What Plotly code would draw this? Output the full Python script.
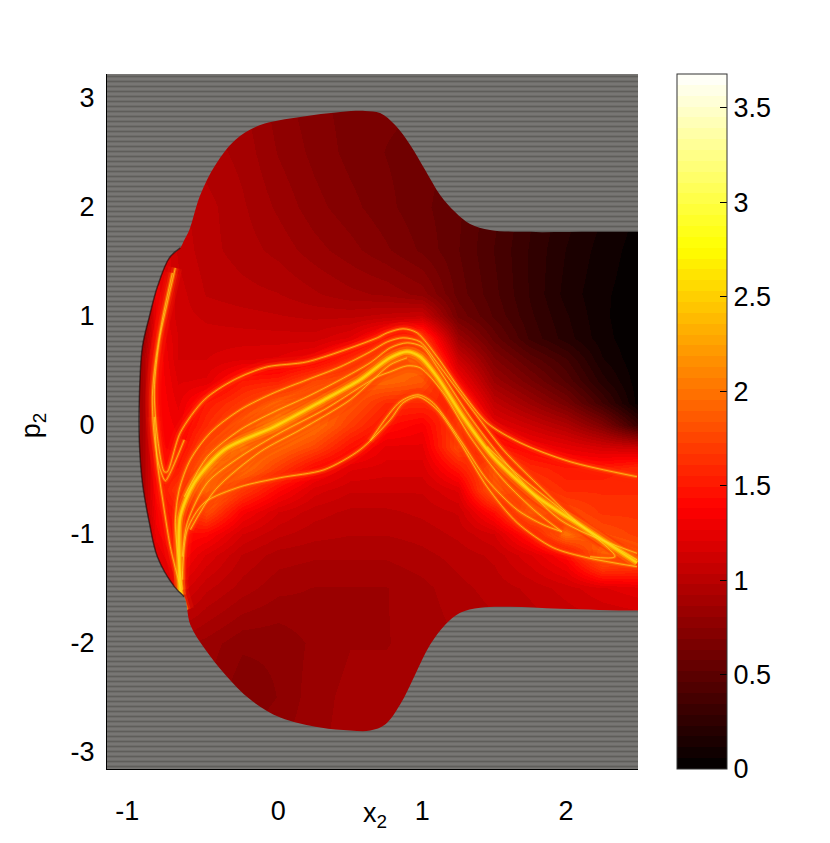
import plotly.graph_objects as go

z_max = 3.68
x_range = [-1.19, 2.5]
y_range = [-3.16, 3.22]
x_ticks = [-1.05, 0, 1, 2]
x_tick_text = ["-1", "0", "1", "2"]
y_ticks = [-3, -2, -1, 0, 1, 2, 3]
y_tick_text = ["-3", "-2", "-1", "0", "1", "2", "3"]
cbar_ticks = [0, 0.5, 1, 1.5, 2, 2.5, 3, 3.5]
cbar_text = ["0", "0.5", "1", "1.5", "2", "2.5", "3", "3.5"]

grid_x = [-1.2, -0.95, -0.85, -0.7, -0.5, -0.25, 0, 0.25, 0.5, 0.75, 1, 1.25, 1.5, 1.75, 2, 2.25, 2.5]
grid_y = [3.22, 2.5, 2.0, 1.6, 1.2, 1.0, 0.8, 0.6, 0.4, 0.2, 0.0, -0.2, -0.4, -0.6, -0.8, -1.0, -1.2, -1.5, -2.0, -2.5, -3.16]
grid_z = [
    [.95, .95, .95, .95, .9, .86, .76, .7, .66, .66, .66, .64, .54, .44, .34, .24, .12],
    [1.0, 1.0, 1.0, 1.0, .95, .9, .8, .73, .67, .63, .6, .56, .48, .38, .28, .18, .1],
    [1.05, 1.05, 1.05, 1.05, 1.0, .93, .85, .77, .71, .65, .59, .53, .42, .3, .2, .12, .05],
    [.5, .9, 1.25, 1.08, 1.0, .95, .9, .83, .77, .7, .62, .52, .4, .28, .17, .09, .03],
    [.4, .7, 1.3, 1.12, 1.03, 1.0, .98, .93, .88, .85, .78, .55, .42, .28, .15, .07, .02],
    [.4, .7, 1.3, 1.12, 1.08, 1.06, 1.04, 1.02, 1.02, 1.06, 1.1, .62, .45, .3, .18, .07, .01],
    [.4, .8, 1.35, 1.15, 1.12, 1.12, 1.12, 1.12, 1.22, 1.5, 1.7, .85, .55, .33, .2, .08, .01],
    [.4, .9, 1.4, 1.15, 1.15, 1.2, 1.22, 1.32, 1.6, 1.9, 2.0, 1.1, .7, .5, .35, .12, .01],
    [.4, .9, 1.4, 1.2, 1.22, 1.5, 1.55, 1.8, 1.9, 1.95, 1.85, 1.35, .85, .65, .45, .2, .02],
    [.4, .9, 1.4, 1.25, 1.5, 1.7, 1.95, 2.0, 1.85, 1.6, 1.6, 1.6, 1.05, .85, .65, .35, .03],
    [.4, .9, 1.4, 1.3, 1.6, 1.9, 2.2, 2.0, 1.7, 1.45, 1.35, 1.75, 1.25, 1.1, .95, .7, .3],
    [.4, .9, 1.4, 1.35, 1.8, 2.1, 1.95, 1.75, 1.45, 1.25, 1.25, 1.8, 1.5, 1.35, 1.25, 1.15, 1.1],
    [.4, .9, 1.4, 1.5, 2.1, 2.0, 1.7, 1.4, 1.22, 1.18, 1.18, 1.5, 1.9, 1.6, 1.5, 1.5, 1.6],
    [.4, .9, 1.4, 1.7, 2.1, 1.7, 1.4, 1.18, 1.1, 1.1, 1.1, 1.22, 1.95, 1.75, 1.6, 1.6, 1.6],
    [.4, .9, 1.35, 1.5, 1.8, 1.35, 1.15, 1.06, 1.02, 1.02, 1.05, 1.1, 1.45, 2.0, 1.8, 1.65, 1.65],
    [.4, .8, 1.3, 1.45, 1.4, 1.15, 1.05, 1.0, .98, .98, 1.0, 1.05, 1.15, 1.5, 2.0, 1.8, 1.7],
    [.4, .7, 1.2, 1.4, 1.2, 1.03, .95, .93, .93, .93, .96, 1.0, 1.05, 1.2, 1.4, 2.0, 1.9],
    [.5, .7, 1.1, 1.2, 1.05, .95, .88, .86, .86, .86, .9, .96, 1.0, 1.05, 1.12, 1.2, 1.25],
    [.88, .88, .88, .88, .84, .76, .76, .82, .86, .86, .88, .92, .95, .98, 1.0, 1.0, 1.0],
    [.82, .82, .82, .82, .8, .7, .75, .84, .88, .88, .9, .92, .95, .98, 1.0, 1.0, 1.0],
    [.82, .82, .82, .82, .8, .78, .82, .86, .88, .88, .9, .92, .95, .98, 1.0, 1.0, 1.0],
]

upper_edge_x = [-1.1, -0.98, -0.966, -0.965, -0.944, -0.896, -0.840, -0.757, -0.681, -0.653, -0.618, -0.542, -0.437, -0.299, -0.125, 0.153, 0.431, 0.604, 0.708, 0.812, 0.917, 1.021, 1.125, 1.229, 1.333, 1.472, 1.681, 2.2, 2.9]
upper_edge_y = [-0.02, -0.02, 0.03, 0.257, 0.716, 0.991, 1.266, 1.532, 1.624, 1.697, 1.789, 2.110, 2.385, 2.615, 2.752, 2.826, 2.872, 2.881, 2.862, 2.752, 2.569, 2.339, 2.110, 1.954, 1.844, 1.789, 1.771, 1.771, 1.771]
lower_edge_x = [-1.1, -0.98, -0.966, -0.965, -0.944, -0.896, -0.840, -0.722, -0.653, -0.611, -0.507, -0.368, -0.194, 0.014, 0.292, 0.5, 0.639, 0.743, 0.847, 0.951, 1.056, 1.160, 1.264, 1.403, 1.611, 1.958, 2.5, 2.9]
lower_edge_y = [0.1, 0.1, 0.05, -0.165, -0.532, -0.899, -1.211, -1.486, -1.578, -1.835, -2.064, -2.294, -2.523, -2.688, -2.780, -2.807, -2.807, -2.752, -2.569, -2.294, -2.018, -1.835, -1.725, -1.679, -1.670, -1.688, -1.706, -1.706]
lobe_edge_x = [-0.653, -0.722, -0.840, -0.896, -0.944, -0.965, -0.965, -0.944, -0.896, -0.840, -0.757, -0.681]
lobe_edge_y = [-1.578, -1.486, -1.211, -0.899, -0.532, -0.165, 0.257, 0.716, 0.991, 1.266, 1.532, 1.624]
outer_left = -2.0
outer_right = 3.4
outer_top = 4.0
outer_bottom = -4.0

ridge_a_x = [-0.715, -0.771, -0.826, -0.861, -0.840, -0.792, -0.771, -0.681, -0.514, -0.306, -0.076, 0.201, 0.688, 0.757, 0.868, 0.965, 1.104, 1.264, 1.451, 1.681, 2.028, 2.493]
ridge_a_y = [1.440, 1.119, 0.780, 0.321, -0.110, -0.431, -0.431, -0.073, 0.229, 0.413, 0.532, 0.578, 0.798, 0.844, 0.881, 0.844, 0.624, 0.321, 0.018, -0.165, -0.339, -0.477]
ridge_a2_x = [-0.736, -0.806, -0.854, -0.875, -0.861, -0.826, -0.785, -0.757, -0.653]
ridge_a2_y = [1.394, 0.963, 0.569, 0.257, -0.110, -0.385, -0.514, -0.459, -0.138]
ridge_c_x = [-0.861, -0.840, -0.806, -0.750, -0.681, -0.632]
ridge_c_y = [0.073, -0.349, -0.661, -1.119, -1.486, -1.697]
ridge_d_x = [-0.667, -0.715, -0.688, -0.611, -0.472, -0.264, -0.028, 0.201, 0.431, 0.639, 0.757, 0.868, 0.986, 1.104, 1.333, 1.563, 1.840, 2.118, 2.493]
ridge_d_y = [-1.514, -0.899, -0.596, -0.321, -0.073, 0.138, 0.294, 0.413, 0.532, 0.670, 0.761, 0.798, 0.761, 0.569, 0.165, -0.229, -0.596, -0.936, -1.239]
ridge_d2_x = [-0.653, -0.493, -0.264, -0.028, 0.201, 0.431, 0.639, 0.778, 0.896, 1.0, 1.104, 1.333, 1.563, 1.958, 2.493]
ridge_d2_y = [-0.661, -0.294, -0.046, 0.119, 0.257, 0.413, 0.569, 0.706, 0.752, 0.716, 0.532, 0.073, -0.321, -0.872, -1.18]
ridge_e_x = [-0.681, -0.688, -0.681, -0.583, -0.375, -0.028, 0.319, 0.569, 0.778, 0.896, 0.986, 1.104, 1.285, 1.493, 1.799, 2.146, 2.493]
ridge_e_y = [-1.560, -1.266, -0.844, -0.532, -0.229, -0.018, 0.229, 0.413, 0.615, 0.670, 0.624, 0.440, 0.073, -0.294, -0.661, -0.963, -1.266]
ridge_f_x = [-0.667, -0.632, -0.493, -0.264, 0.014, 0.319, 0.688, 0.778, 0.896, 0.986, 1.146, 1.333, 1.563, 1.799, 1.972]
ridge_f_y = [-1.211, -0.899, -0.532, -0.294, -0.073, 0.138, 0.440, 0.486, 0.541, 0.523, 0.294, -0.110, -0.505, -0.807, -0.982]
ridge_g_x = [-0.611, -0.437, -0.125, 0.153, 0.5, 0.778, 0.896]
ridge_g_y = [-0.963, -0.596, -0.248, -0.046, 0.229, 0.550, 0.615]
ridge_h_x = [-0.667, -0.632, -0.514, -0.264, 0.014, 0.319, 0.569, 0.778, 0.868, 0.972, 1.104, 1.264, 1.451, 1.660, 1.910, 2.146, 2.493]
ridge_h_y = [-1.422, -0.963, -0.716, -0.569, -0.486, -0.413, -0.229, 0.046, 0.202, 0.257, 0.138, -0.165, -0.569, -0.899, -1.128, -1.220, -1.303]
ridge_i_x = [0.639, 0.847, 0.972, 1.076, 1.264, 1.451, 1.660, 1.840, 1.972]
ridge_i_y = [-0.147, 0.211, 0.275, 0.202, -0.138, -0.505, -0.780, -0.917, -0.982]
ridge_j_x = [1.451, 1.681, 2.028, 2.340, 2.167]
ridge_j_y = [-0.202, -0.477, -0.844, -1.211, -1.211]

ridges = [
    (ridge_a_x, ridge_a_y), (ridge_a2_x, ridge_a2_y), (ridge_c_x, ridge_c_y), (ridge_d_x, ridge_d_y),
    (ridge_d2_x, ridge_d2_y), (ridge_f_x, ridge_f_y), (ridge_g_x, ridge_g_y), (ridge_h_x, ridge_h_y),
    (ridge_i_x, ridge_i_y), (ridge_j_x, ridge_j_y), (ridge_e_x, ridge_e_y),
]


def hot(t):
    r = min(1, t / 0.375)
    g = min(1, max(0, (t - 0.375) / 0.375))
    b = min(1, max(0, (t - 0.75) / 0.25))
    return f"rgb({round(r * 255)},{round(g * 255)},{round(b * 255)})"


levels = 64
colorscale = []
for i in range(levels):
    c = hot((i + 0.5) / levels)
    colorscale.append([i / levels, c])
    colorscale.append([(i + 1) / levels, c])

font = dict(family="Liberation Sans", size=27, color="black")

fig = go.Figure()
fig.add_trace(go.Heatmap(
    x=grid_x, y=grid_y, z=grid_z, zmin=0, zmax=z_max, zsmooth="best", colorscale=colorscale,
    hoverinfo="skip",
    colorbar=dict(
        thickness=50, thicknessmode="pixels", len=695, lenmode="pixels", x=1.0734, xanchor="left",
        y=0.5, yanchor="middle", xpad=0, ypad=0, tickvals=cbar_ticks, ticktext=cbar_text,
        ticks="inside", ticklen=7, tickcolor="black", outlinecolor="#333333", outlinewidth=1,
        tickfont=font,
    ),
))

smooth = dict(shape="spline", smoothing=0.8)
for width, color in ((14, "rgba(255,40,0,0.18)"), (7, "rgba(255,70,0,0.32)"), (3, "rgba(255,140,0,0.50)")):
    for rx, ry in ridges:
        fig.add_trace(go.Scatter(x=rx, y=ry, mode="lines", hoverinfo="skip", showlegend=False,
                                 line=dict(color=color, width=width, **smooth)))
for width, color in ((11, "rgba(255,170,0,0.28)"), (6, "rgba(255,215,0,0.40)"), (3, "rgba(255,235,0,0.55)")):
    fig.add_trace(go.Scatter(x=ridge_e_x, y=ridge_e_y, mode="lines", hoverinfo="skip", showlegend=False,
                             line=dict(color=color, width=width, **smooth)))
for rx, ry in ridges:
    fig.add_trace(go.Scatter(x=rx, y=ry, mode="lines", hoverinfo="skip", showlegend=False,
                             line=dict(color="rgba(255,215,40,0.65)", width=1, **smooth)))

upper_x = [outer_left] + upper_edge_x + [outer_right, outer_right, outer_left, outer_left]
upper_y = [upper_edge_y[0]] + upper_edge_y + [upper_edge_y[-1], outer_top, outer_top, upper_edge_y[0]]
lower_x = [outer_left] + lower_edge_x + [outer_right, outer_right, outer_left, outer_left]
lower_y = [lower_edge_y[0]] + lower_edge_y + [lower_edge_y[-1], outer_bottom, outer_bottom, lower_edge_y[0]]
for mx, my in ((upper_x, upper_y), (lower_x, lower_y)):
    fig.add_trace(go.Scatter(
        x=mx, y=my, mode="lines", fill="toself", hoverinfo="skip", showlegend=False,
        line=dict(width=0, shape="spline", smoothing=1.0), fillcolor="#6e6c6a",
        fillpattern=dict(shape="-", size=5, solidity=0.35, fgcolor="#45443f", bgcolor="#787674"),
    ))
fig.add_trace(go.Scatter(x=lobe_edge_x, y=lobe_edge_y, mode="lines", hoverinfo="skip", showlegend=False,
                         line=dict(color="rgba(20,0,0,0.55)", width=1.5, shape="spline", smoothing=1.0)))

fig.add_annotation(text="x<sub>2</sub>", xref="paper", yref="paper", x=0.505, y=-0.066, showarrow=False,
                   xanchor="center", yanchor="middle", font=font)
fig.add_annotation(text="p<sub>2</sub>", xref="paper", yref="paper", x=-0.139, y=0.495, showarrow=False,
                   xanchor="center", yanchor="middle", textangle=-90, font=font)

fig.update_layout(
    width=830, height=843, margin=dict(l=107, r=192, t=74, b=74),
    paper_bgcolor="white", plot_bgcolor="white", showlegend=False, font=font,
    xaxis=dict(range=x_range, tickvals=x_ticks, ticktext=x_tick_text, ticks="outside", ticklen=18,
               tickcolor="rgba(0,0,0,0)", showgrid=False, zeroline=False, showline=True, linecolor="black",
               linewidth=1, tickfont=font, automargin=False),
    yaxis=dict(range=y_range, tickvals=y_ticks, ticktext=y_tick_text, ticks="outside", ticklen=6,
               tickcolor="rgba(0,0,0,0)", showgrid=False, zeroline=False, showline=True, linecolor="black",
               linewidth=1, tickfont=font, automargin=False),
)
fig.write_html("out.html", config={"displayModeBar": False}, post_script="document.body.style.margin='0';")
